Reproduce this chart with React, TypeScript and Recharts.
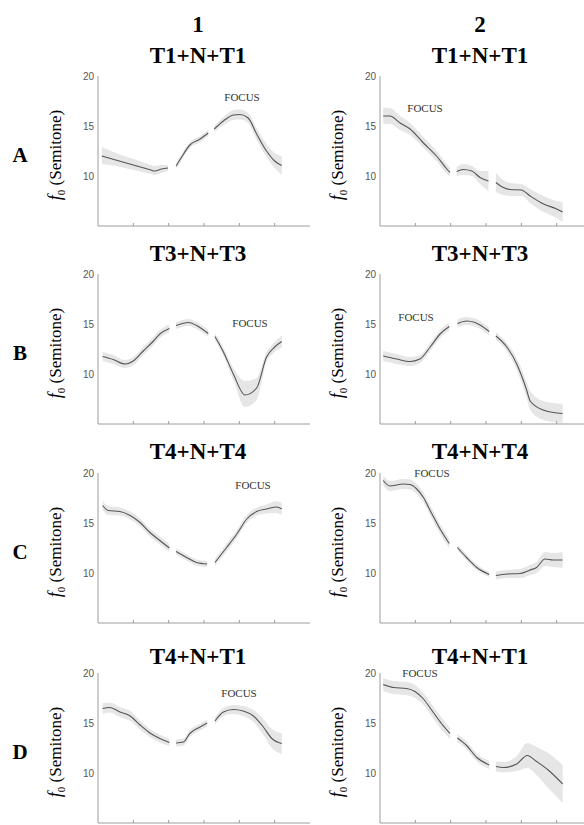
import React from 'react';
import { ComposedChart, Area, Line, XAxis, YAxis } from 'recharts';

// time (normalised syllable units), mean f0 and band limits, null = gap between syllables
const a1X = [0.11, 0.5, 1.0, 1.5, 1.6, 1.8, 1.98, 2.1, 2.21, 2.35, 2.6, 2.89, 3.12, 3.2, 3.29, 3.55, 3.83, 4.02, 4.25, 4.49, 4.77, 5.0, 5.2];
const a1Mean = [12.0, 11.6, 11.1, 10.6, 10.5, 10.7, 10.8, null, 11.0, 11.8, 13.1, 13.7, 14.3, null, 14.7, 15.5, 16.1, 16.15, 15.8, 14.2, 12.5, 11.5, 11.05];
const a1Hi = [12.9, 12.3, 11.7, 11.1, 11.0, 11.1, 11.1, null, 11.3, 12.1, 13.4, 14.0, 14.6, null, 15.0, 15.9, 16.6, 16.65, 16.3, 14.8, 13.2, 12.3, 12.0];
const a1Lo = [11.2, 11.0, 10.6, 10.2, 10.1, 10.3, 10.5, null, 10.7, 11.5, 12.8, 13.4, 14.0, null, 14.4, 15.1, 15.6, 15.65, 15.3, 13.6, 11.9, 10.8, 10.1];

const a2X = [0.09, 0.28, 0.57, 0.85, 1.23, 1.6, 1.89, 1.98, 2.08, 2.17, 2.36, 2.6, 2.83, 3.07, 3.18, 3.28, 3.49, 3.68, 4.0, 4.25, 4.63, 5.0, 5.17];
const a2Mean = [16.0, 16.0, 15.3, 14.7, 13.3, 12.0, 10.7, 10.35, null, 10.45, 10.65, 10.5, 9.85, 9.5, null, 9.35, 8.85, 8.65, 8.6, 8.0, 7.2, 6.7, 6.4];
const a2Hi = [16.85, 16.8, 16.0, 15.3, 13.9, 12.5, 11.2, 10.8, null, 10.9, 11.2, 11.0, 10.5, 10.5, null, 10.3, 9.6, 9.3, 9.2, 8.7, 8.0, 7.5, 7.4];
const a2Lo = [15.2, 15.2, 14.6, 14.1, 12.8, 11.5, 10.2, 9.9, null, 10.0, 10.1, 10.0, 9.2, 8.5, null, 8.4, 8.1, 8.0, 8.0, 7.3, 6.4, 5.8, 5.4];

const b1X = [0.13, 0.43, 0.76, 1.0, 1.28, 1.57, 1.75, 2.02, 2.12, 2.21, 2.56, 2.79, 3.12, 3.22, 3.31, 3.55, 3.83, 4.16, 4.49, 4.77, 5.0, 5.2];
const b1Mean = [11.75, 11.45, 11.0, 11.3, 12.3, 13.3, 14.0, 14.55, null, 14.85, 15.15, 14.85, 14.05, null, 13.75, 12.2, 10.0, 7.9, 8.6, 11.7, 12.7, 13.25];
const b1Hi = [12.2, 11.9, 11.4, 11.7, 12.7, 13.7, 14.4, 14.95, null, 15.2, 15.5, 15.2, 14.4, null, 14.1, 12.6, 10.6, 9.3, 9.6, 12.2, 13.2, 13.85];
const b1Lo = [11.3, 11.0, 10.6, 10.9, 11.9, 12.9, 13.6, 14.15, null, 14.5, 14.8, 14.5, 13.7, null, 13.4, 11.8, 9.4, 6.7, 7.4, 11.2, 12.2, 12.65];

const b2X = [0.09, 0.47, 0.85, 1.13, 1.42, 1.7, 1.96, 2.08, 2.19, 2.45, 2.69, 3.09, 3.18, 3.28, 3.59, 3.87, 4.15, 4.25, 4.62, 4.9, 5.17];
const b2Mean = [11.8, 11.5, 11.25, 11.5, 12.7, 14.0, 14.75, null, 15.05, 15.3, 15.15, 14.25, null, 13.8, 12.7, 11.0, 8.4, 7.3, 6.4, 6.15, 6.05];
const b2Hi = [12.3, 12.0, 11.7, 11.9, 13.1, 14.4, 15.15, null, 15.45, 15.7, 15.55, 14.65, null, 14.2, 13.1, 11.6, 9.2, 8.3, 7.3, 7.1, 7.0];
const b2Lo = [11.3, 11.0, 10.8, 11.1, 12.3, 13.6, 14.35, null, 14.65, 14.9, 14.75, 13.85, null, 13.4, 12.3, 10.4, 7.6, 6.4, 5.4, 5.2, 5.1];

const c1X = [0.13, 0.29, 0.62, 0.91, 1.19, 1.47, 1.75, 2.02, 2.12, 2.21, 2.51, 2.79, 3.09, 3.2, 3.31, 3.64, 3.93, 4.21, 4.49, 4.77, 5.06, 5.2];
const c1Mean = [16.75, 16.25, 16.15, 15.75, 15.05, 14.05, 13.25, 12.5, null, 12.15, 11.55, 11.05, 10.9, null, 11.05, 12.55, 13.9, 15.4, 16.15, 16.4, 16.6, 16.4];
const c1Hi = [17.2, 16.7, 16.55, 16.15, 15.45, 14.45, 13.65, 12.9, null, 12.45, 11.85, 11.35, 11.2, null, 11.4, 12.95, 14.3, 15.8, 16.55, 16.85, 17.2, 17.0];
const c1Lo = [16.3, 15.8, 15.75, 15.35, 14.65, 13.65, 12.85, 12.1, null, 11.85, 11.25, 10.75, 10.6, null, 10.7, 12.15, 13.5, 15.0, 15.75, 15.95, 16.0, 15.8];

const c2X = [0.09, 0.28, 0.66, 0.85, 1.04, 1.23, 1.42, 1.7, 1.96, 2.08, 2.19, 2.45, 2.74, 3.09, 3.18, 3.28, 3.59, 3.96, 4.25, 4.43, 4.67, 4.9, 5.17];
const c2Mean = [19.25, 18.7, 18.9, 18.85, 18.4, 17.55, 16.25, 14.4, 12.95, null, 12.55, 11.55, 10.55, 9.85, null, 9.75, 9.9, 9.95, 10.3, 10.55, 11.4, 11.3, 11.3];
const c2Hi = [19.75, 19.2, 19.4, 19.35, 18.9, 18.05, 16.75, 14.9, 13.4, null, 12.85, 11.85, 10.85, 10.1, null, 10.15, 10.3, 10.4, 10.8, 11.1, 12.1, 12.0, 12.1];
const c2Lo = [18.75, 18.2, 18.4, 18.35, 17.9, 17.05, 15.75, 13.9, 12.5, null, 12.25, 11.25, 10.25, 9.6, null, 9.35, 9.5, 9.5, 9.8, 10.0, 10.7, 10.6, 10.5];

const d1X = [0.13, 0.34, 0.62, 0.91, 1.19, 1.47, 1.75, 2.02, 2.12, 2.21, 2.42, 2.6, 2.89, 3.09, 3.2, 3.31, 3.55, 3.83, 4.11, 4.4, 4.68, 4.92, 5.2];
const d1Mean = [16.45, 16.55, 16.1, 15.7, 14.8, 14.0, 13.45, 13.05, null, 13.0, 13.1, 13.95, 14.6, 15.0, null, 15.2, 16.1, 16.35, 16.2, 15.7, 14.6, 13.45, 12.95];
const d1Hi = [17.0, 17.05, 16.6, 16.2, 15.25, 14.4, 13.85, 13.4, null, 13.35, 13.45, 14.3, 14.95, 15.35, null, 15.55, 16.5, 16.8, 16.7, 16.3, 15.4, 14.4, 14.0];
const d1Lo = [15.9, 16.05, 15.6, 15.2, 14.35, 13.6, 13.05, 12.7, null, 12.65, 12.75, 13.6, 14.25, 14.65, null, 14.85, 15.7, 15.9, 15.7, 15.1, 13.8, 12.5, 11.9];

const d2X = [0.09, 0.38, 0.75, 0.99, 1.23, 1.51, 1.75, 1.98, 2.08, 2.19, 2.45, 2.74, 3.09, 3.18, 3.28, 3.49, 3.87, 4.17, 4.43, 4.76, 5.17];
const d2Mean = [18.85, 18.55, 18.45, 18.15, 17.4, 16.05, 14.9, 13.95, null, 13.5, 12.75, 11.55, 10.8, null, 10.65, 10.55, 10.9, 11.75, 11.15, 10.3, 8.9];
const d2Hi = [19.5, 19.2, 19.1, 18.8, 18.0, 16.65, 15.5, 14.5, null, 13.9, 13.15, 11.95, 11.2, null, 11.15, 11.1, 11.7, 13.0, 12.6, 12.0, 10.8];
const d2Lo = [18.2, 17.9, 17.8, 17.5, 16.8, 15.45, 14.3, 13.4, null, 13.1, 12.35, 11.15, 10.4, null, 10.15, 10.05, 10.2, 10.5, 9.8, 8.5, 7.0];

const columnNames = ['1', '2'];
const rowNames = ['A', 'B', 'C', 'D'];
const conditions = ['T1+N+T1', 'T3+N+T3', 'T4+N+T4', 'T4+N+T1'];
const yTicks = [5, 10, 15, 20];
const xTicks = [1, 2, 3, 4, 5];

// layout
const colAxisX = [98, 380];
const colCenter = [198, 480];
const rowTop = [76, 274, 473, 673];
const titleY = [56, 254, 452, 657];
const PLOT_H = 149;
const PLOT_W = 212;
const Y_W = 40;

const panels = [
  { x: a1X, mean: a1Mean, lo: a1Lo, hi: a1Hi, row: 0, col: 0, focus: [242, 97] },
  { x: a2X, mean: a2Mean, lo: a2Lo, hi: a2Hi, row: 0, col: 1, focus: [425, 108] },
  { x: b1X, mean: b1Mean, lo: b1Lo, hi: b1Hi, row: 1, col: 0, focus: [250, 323] },
  { x: b2X, mean: b2Mean, lo: b2Lo, hi: b2Hi, row: 1, col: 1, focus: [416, 317] },
  { x: c1X, mean: c1Mean, lo: c1Lo, hi: c1Hi, row: 2, col: 0, focus: [253, 485] },
  { x: c2X, mean: c2Mean, lo: c2Lo, hi: c2Hi, row: 2, col: 1, focus: [432, 473] },
  { x: d1X, mean: d1Mean, lo: d1Lo, hi: d1Hi, row: 3, col: 0, focus: [239, 693] },
  { x: d2X, mean: d2Mean, lo: d2Lo, hi: d2Hi, row: 3, col: 1, focus: [420, 673] },
];

const serif = '"Liberation Serif", "Times New Roman", Times, serif';
const sans = '"Liberation Sans", Arial, sans-serif';
const axisGray = '#9c9c9c';

function Panel({ p }: { p: any }) {
  const rows = p.x.map((v: number, i: number) => ({
    x: v,
    mean: p.mean[i],
    band: p.mean[i] == null ? null : [p.lo[i], p.hi[i]],
  }));
  return (
    <div style={{ position: 'absolute', left: colAxisX[p.col] - Y_W, top: rowTop[p.row] - 10 }}>
      <ComposedChart width={Y_W + PLOT_W} height={PLOT_H + 15} data={rows} margin={{ top: 10, right: 0, bottom: 4, left: 0 }}>
        <XAxis
          dataKey="x"
          type="number"
          domain={[0, 6]}
          ticks={xTicks}
          height={1}
          mirror
          tickSize={3}
          tickFormatter={() => ''}
          stroke={axisGray}
          allowDataOverflow
        />
        <YAxis
          type="number"
          domain={[5, 20]}
          ticks={yTicks}
          width={Y_W}
          tickLine={false}
          tickSize={3}
          tickMargin={1}
          stroke={axisGray}
          tick={{ fontSize: 10, fill: '#555', fontFamily: sans }}
        />
        <Area dataKey="band" type="monotone" stroke="none" fill="#e6e6e6" fillOpacity={1} isAnimationActive={false} />
        <Line dataKey="mean" type="monotone" stroke="#555" strokeWidth={1.1} dot={false} isAnimationActive={false} />
      </ComposedChart>
    </div>
  );
}

export default function App() {
  return (
    <div style={{ position: 'absolute', left: 0, top: 0, width: 584, height: 825, overflow: 'hidden', background: '#fff' }}>
      {columnNames.map((c, i) => (
        <div key={c} style={{ position: 'absolute', left: colCenter[i] - 50, width: 100, top: 25 - 13, textAlign: 'center', fontFamily: serif, fontWeight: 'bold', fontSize: 23, lineHeight: '26px' }}>
          {c}
        </div>
      ))}
      {rowNames.map((r, ri) => (
        <React.Fragment key={r}>
          <div style={{ position: 'absolute', left: 7, width: 26, top: rowTop[ri] + 79 - 12, textAlign: 'center', fontFamily: serif, fontWeight: 'bold', fontSize: 21, lineHeight: '24px' }}>
            {r}
          </div>
          {colCenter.map((cx, ci) => (
            <React.Fragment key={ci}>
              <div style={{ position: 'absolute', left: cx - 80, width: 160, top: titleY[ri] - 13, textAlign: 'center', fontFamily: serif, fontWeight: 'bold', fontSize: 23, lineHeight: '26px' }}>
                {conditions[ri]}
              </div>
              <div style={{ position: 'absolute', left: colAxisX[ci] - 43 - 60, width: 120, top: rowTop[ri] + 79 - 10, height: 20, textAlign: 'center', fontFamily: serif, fontSize: 17, lineHeight: '20px', transform: 'rotate(-90deg)', whiteSpace: 'nowrap' }}>
                <i style={{ fontSize: 18 }}>f</i><sub style={{ fontSize: 11 }}>0</sub> (Semitone)
              </div>
            </React.Fragment>
          ))}
        </React.Fragment>
      ))}
      {panels.map((p, i) => (
        <Panel key={i} p={p} />
      ))}
      {panels.map((p, i) => (
        <div key={'f' + i} style={{ position: 'absolute', left: p.focus[0] - 30, width: 60, top: p.focus[1] - 7, textAlign: 'center', fontFamily: serif, fontSize: 11, lineHeight: '14px', color: '#333' }}>
          FOCUS
        </div>
      ))}
    </div>
  );
}
